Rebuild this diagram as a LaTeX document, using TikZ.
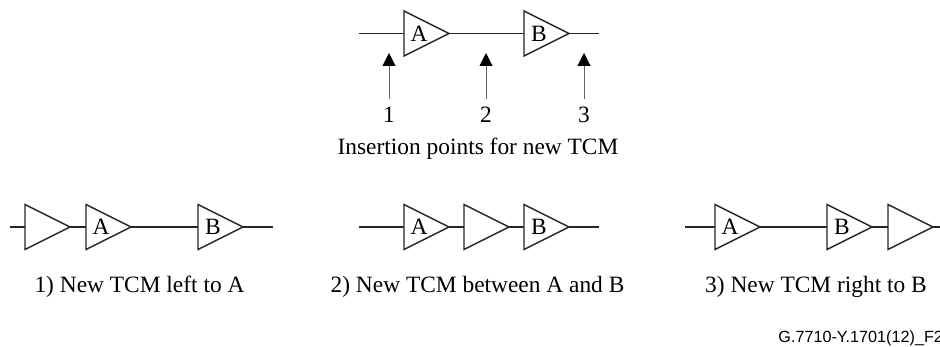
\documentclass[tikz,border=0pt]{standalone}
\usepackage{fontspec}
\setmainfont{Liberation Serif}
\newfontfamily\refsans{Liberation Sans}
\usetikzlibrary{shapes.geometric,arrows.meta}
\tikzset{
  amp/.style={draw=black!85, fill=white, line width=0.7pt, isosceles triangle, isosceles triangle apex angle=53.13,
    isosceles triangle stretches, minimum width=22.5pt, minimum height=22.5pt, inner sep=0pt, outer sep=0pt,
    font=\fontsize{11.7}{13}\selectfont, anchor=lower side},
  wire/.style={draw=black!85, line width=0.7pt},
  insarrow/.style={draw=black!60, line width=0.5pt, -{Triangle[length=6.5pt,width=6.5pt,color=black]}},
  num/.style={font=\fontsize{11.7}{13}\selectfont, inner sep=3.5pt},
  caption/.style={font=\fontsize{11.7}{13}\selectfont, inner sep=0pt}
}
\begin{document}
\begin{tikzpicture}[x=0.5pt,y=0.5pt]
\clip (0,0) rectangle (940,347);
\useasboundingbox (0,0) rectangle (940,347);
% insertion points
\begin{scope}[xshift=179.5pt,yshift=156.75pt]
\coordinate (in) at (0,0);
\coordinate (out) at (240,0);
\node[amp] (ampA) at (45,0) {\kern2pt A};
\node[amp] (ampB) at (165,0) {\kern2pt B};
\draw[wire] (in) -- (ampA.lower side);
\draw[wire] (ampA.apex) -- (ampB.lower side);
\draw[wire] (ampB.apex) -- (out);
\node[num] (n1) at (30,-81) {1};
\node[num] (n2) at (127,-81) {2};
\node[num] (n3) at (225,-81) {3};
\coordinate (p1) at (30,-19.5);
\coordinate (p2) at (127,-19.5);
\coordinate (p3) at (225,-19.5);
\draw[insarrow] (n1) -- (p1);
\draw[insarrow] (n2) -- (p2);
\draw[insarrow] (n3) -- (p3);
\node[caption] (title) at (119,-115) {Insertion points for new TCM};
\end{scope}
% left to A
\begin{scope}[xshift=5pt,yshift=60pt]
\coordinate (in1) at (0,0);
\coordinate (out1) at (263,0);
\node[amp] (ampN1) at (15,0) {};
\node[amp] (ampA1) at (76,0) {\kern2pt A};
\node[amp] (ampB1) at (188,0) {\kern2pt B};
\draw[wire] (in1) -- (ampN1.lower side);
\draw[wire] (ampN1.apex) -- (ampA1.lower side);
\draw[wire] (ampA1.apex) -- (ampB1.lower side);
\draw[wire] (ampB1.apex) -- (out1);
\node[caption] (cap1) at (129.5,-60) {1) New TCM left to A};
\end{scope}
% between A and B
\begin{scope}[xshift=179.5pt,yshift=60pt]
\coordinate (in2) at (0,0);
\coordinate (out2) at (240,0);
\node[amp] (ampA2) at (45,0) {\kern2pt A};
\node[amp] (ampN2) at (105,0) {};
\node[amp] (ampB2) at (165,0) {\kern2pt B};
\draw[wire] (in2) -- (ampA2.lower side);
\draw[wire] (ampA2.apex) -- (ampN2.lower side);
\draw[wire] (ampN2.apex) -- (ampB2.lower side);
\draw[wire] (ampB2.apex) -- (out2);
\node[caption] (cap2) at (118.5,-60) {2) New TCM between A and B};
\end{scope}
% right to B
\begin{scope}[xshift=342.5pt,yshift=60pt]
\coordinate (in3) at (0,0);
\coordinate (out3) at (258,0);
\node[amp] (ampA3) at (30,0) {\kern2pt A};
\node[amp] (ampB3) at (142,0) {\kern2pt B};
\node[amp] (ampN3) at (203,0) {};
\draw[wire] (in3) -- (ampA3.lower side);
\draw[wire] (ampA3.apex) -- (ampB3.lower side);
\draw[wire] (ampB3.apex) -- (ampN3.lower side);
\draw[wire] (ampN3.apex) -- (out3);
\node[caption] (cap3) at (131,-60) {3) New TCM right to B};
\end{scope}
\node[anchor=west, inner sep=0pt, font=\refsans\fontsize{8.1}{9}\selectfont] (ref) at (778,8.5) {G.7710-Y.1701(12)\_F2};
\end{tikzpicture}
\end{document}
